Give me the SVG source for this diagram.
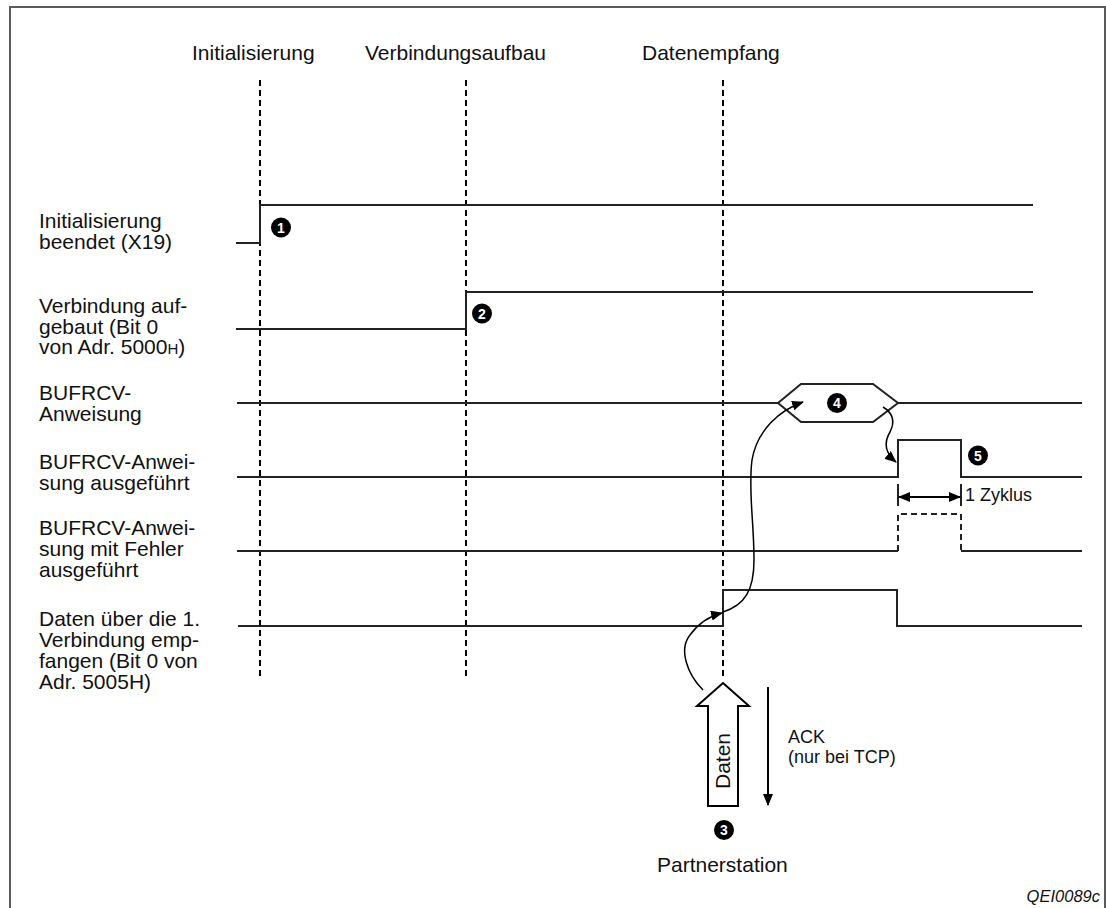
<svg xmlns="http://www.w3.org/2000/svg" width="1106" height="908" viewBox="0 0 1106 908">
<style>
text{font-family:"Liberation Sans",Arial,sans-serif;fill:#111}
.t{font-size:21px}
.s{font-size:18px}
.sig{fill:none;stroke:#222;stroke-width:2}
.dash{fill:none;stroke:#000;stroke-width:2;stroke-dasharray:6 4}
.cur{fill:none;stroke:#000;stroke-width:1.5}
.badge circle{fill:#000}
.badge text{fill:#fff;font-size:14px;font-weight:bold;text-anchor:middle}
</style>
<defs>
<marker id="ah" markerUnits="userSpaceOnUse" markerWidth="12" markerHeight="10" refX="11" refY="5" orient="auto-start-reverse" viewBox="0 0 12 10">
<path d="M0,0 L12,5 L0,10 z" fill="#000"/>
</marker>
</defs>
<rect x="10" y="7" width="1095" height="912" fill="#fff" stroke="#5a5a5a" stroke-width="2"/>
<g id="headers">
<text class="t" x="192" y="60">Initialisierung</text>
<text class="t" x="365" y="60">Verbindungsaufbau</text>
<text class="t" x="642" y="60">Datenempfang</text>
</g>
<g id="phases">
<line class="dash" x1="260" y1="80" x2="260" y2="676"/>
<line class="dash" x1="466" y1="80" x2="466" y2="676"/>
<line class="dash" x1="723" y1="80" x2="723" y2="676"/>
</g>
<g id="sig1">
<text class="t" x="39" y="228">Initialisierung<tspan x="39" dy="20.5">beendet (X19)</tspan></text>
<polyline class="sig" points="236,243 260,243 260,205 1033,205"/>
<g class="badge"><circle cx="281" cy="227.5" r="10"/><text x="281" y="232.5">1</text></g>
</g>
<g id="sig2">
<text class="t" x="39" y="313">Verbindung auf-<tspan x="39" dy="20.5">gebaut (Bit 0</tspan><tspan x="39" dy="20.5">von Adr. 5000</tspan><tspan font-size="15">H</tspan>)</text>
<polyline class="sig" points="236,329 466,329 466,292 1033,292"/>
<g class="badge"><circle cx="482" cy="313.5" r="10"/><text x="482" y="318.5">2</text></g>
</g>
<g id="sig3">
<text class="t" x="39" y="400">BUFRCV-<tspan x="39" dy="20.5">Anweisung</tspan></text>
<line class="sig" x1="237" y1="403" x2="778" y2="403"/>
<polygon class="sig" points="778,403 801,384 873,384 898,403 873,422 801,422"/>
<line class="sig" x1="898" y1="403" x2="1082" y2="403"/>
<g class="badge"><circle cx="837" cy="403" r="10"/><text x="837" y="408">4</text></g>
</g>
<g id="sig4">
<text class="t" x="39" y="469">BUFRCV-Anwei-<tspan x="39" dy="21">sung ausgeführt</tspan></text>
<polyline class="sig" points="237,477 898,477 898,440 961,440 961,477 1082,477"/>
<g class="badge"><circle cx="978" cy="455.5" r="10"/><text x="978" y="460.5">5</text></g>
</g>
<g id="cycle">
<line class="sig" x1="898" y1="484" x2="898" y2="506"/>
<line class="sig" x1="961" y1="484" x2="961" y2="506"/>
<line x1="899" y1="497" x2="960" y2="497" stroke="#000" stroke-width="2" marker-start="url(#ah)" marker-end="url(#ah)"/>
<text class="s" x="965" y="501">1 Zyklus</text>
</g>
<g id="sig5">
<text class="t" x="39" y="535">BUFRCV-Anwei-<tspan x="39" dy="21">sung mit Fehler</tspan><tspan x="39" dy="20.5">ausgeführt</tspan></text>
<line class="sig" x1="237" y1="551" x2="898" y2="551"/>
<polyline class="sig" points="898,551 898,514 961,514 961,551" stroke-dasharray="6 4"/>
<line class="sig" x1="961" y1="551" x2="1082" y2="551"/>
</g>
<g id="sig6">
<text class="t" x="39" y="626">Daten über die 1.<tspan x="39" dy="21">Verbindung emp-</tspan><tspan x="39" dy="21">fangen (Bit 0 von</tspan><tspan x="39" dy="21">Adr. 5005H)</tspan></text>
<polyline class="sig" points="238,626 723,626 723,590 897,590 897,626 1082,626"/>
</g>
<g id="partner">
<polygon points="723,683 749,706 738,706 738,806 708,806 708,706 697,706" fill="#fff" stroke="#000" stroke-width="2"/>
<text class="t" transform="translate(730,761) rotate(-90)" text-anchor="middle">Daten</text>
<line x1="768" y1="687" x2="768" y2="805" stroke="#000" stroke-width="2" marker-end="url(#ah)"/>
<text class="s" x="788" y="743">ACK<tspan x="788" dy="20">(nur bei TCP)</tspan></text>
<g class="badge"><circle cx="724" cy="830" r="10"/><text x="724" y="835">3</text></g>
<text class="t" x="657" y="872">Partnerstation</text>
</g>
<g id="connectors">
<path class="cur" d="M703,690 C688,675 678,650 690,635 C698,624 710,616 722,613" marker-end="url(#ah)"/>
<path class="cur" d="M723,612 C745,605 754,590 754,560 C754,520 748,490 752,460 C757,430 780,410 803,402" marker-end="url(#ah)"/>
<path class="cur" d="M883,407 C893,413 895,422 890,432 C884,442 884,452 896,462" marker-end="url(#ah)"/>
</g>
<text x="1100" y="902" font-size="16.5" font-style="italic" text-anchor="end">QEI0089c</text>
</svg>
